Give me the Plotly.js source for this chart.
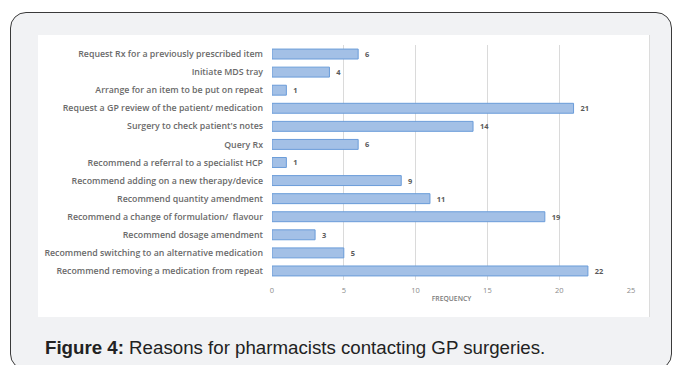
<!DOCTYPE html>
<html>
<head>
<meta charset="utf-8">
<script src="https://cdn.plot.ly/plotly-3.0.1.min.js"></script>
<style>
  html, body { margin: 0; padding: 0; background: #ffffff; width: 673px; height: 365px; overflow: hidden; }
  #frame { position: absolute; left: 10px; top: 12px; width: 662px; height: 358px; box-sizing: border-box;
           background: #f1f2f4; border: 1.5px solid #3a3a3a; border-radius: 16px; }
  #panel { position: absolute; left: 38px; top: 35px; width: 611px; height: 282px; background: #ffffff;
           box-shadow: 1px 0 0 #dcdcdc; }
  #chart { position: absolute; left: 0; top: 0; width: 673px; height: 365px; }
</style>
</head>
<body>
<div id="frame"></div>
<div id="panel"></div>
<div id="chart"></div>
<script>
const categories = [
  "Request Rx for a previously prescribed item",
  "Initiate MDS tray",
  "Arrange for an item to be put on repeat",
  "Request a GP review of the patient/ medication",
  "Surgery to check patient's notes",
  "Query Rx",
  "Recommend a referral to a specialist HCP",
  "Recommend adding on a new therapy/device",
  "Recommend quantity amendment",
  "Recommend a change of formulation/  flavour",
  "Recommend dosage amendment",
  "Recommend switching to an alternative medication",
  "Recommend removing a medication from repeat"
];
const frequency = [6, 4, 1, 21, 14, 6, 1, 9, 11, 19, 3, 5, 22];
const xTicks = [0, 5, 10, 15, 20, 25];
const xTitle = "FREQUENCY";
const captionBold = "Figure 4:";
const captionText = " Reasons for pharmacists contacting GP surgeries.";

const trace = {
  type: "bar",
  orientation: "h",
  y: categories,
  x: frequency,
  marker: { color: "#a3c0e6", line: { color: "#6a9cd9", width: 1 } },
  texttemplate: "\u00a0\u00a0%{x}",
  textposition: "outside",
  cliponaxis: false,
  textfont: { family: "Open Sans", size: 7.5, color: "#5a5a5a", weight: 700 },
  hoverinfo: "skip"
};

const layout = {
  width: 673, height: 365,
  margin: { l: 272, r: 42, t: 45, b: 85 },
  paper_bgcolor: "rgba(0,0,0,0)",
  plot_bgcolor: "rgba(0,0,0,0)",
  showlegend: false,
  bargap: 0.45,
  xaxis: {
    range: [0, 25],
    tickvals: xTicks,
    ticktext: xTicks.map(String),
    showgrid: true, gridcolor: "#dadada", gridwidth: 1,
    zeroline: false, showline: false, ticks: "",
    ticklabelstandoff: 4,
    tickfont: { family: "Open Sans", size: 7.5, color: "#8a8a8a" },
    title: { text: xTitle, font: { family: "Open Sans", size: 6.8, color: "#7a7a7a", weight: 600 }, standoff: 2 },
    fixedrange: true
  },
  yaxis: {
    type: "category",
    autorange: "reversed",
    showgrid: false, zeroline: false, showline: false, ticks: "",
    ticklabelstandoff: 8,
    tickfont: { family: "Open Sans", size: 8.8, color: "#6a6a6a", weight: 600 },
    fixedrange: true
  },
  annotations: [{
    xref: "paper", yref: "paper",
    x: (43 - 272) / (673 - 272 - 42), y: (365 - 85 - 347) / (365 - 45 - 85),
    xanchor: "left", yanchor: "middle", showarrow: false,
    text: "<b>" + captionBold + "</b>" + captionText,
    font: { family: "Liberation Sans, Arial, sans-serif", size: 18.7, color: "#222222" }
  }]
};

Plotly.newPlot("chart", [trace], layout, { displayModeBar: false, staticPlot: true });
</script>
</body>
</html>
